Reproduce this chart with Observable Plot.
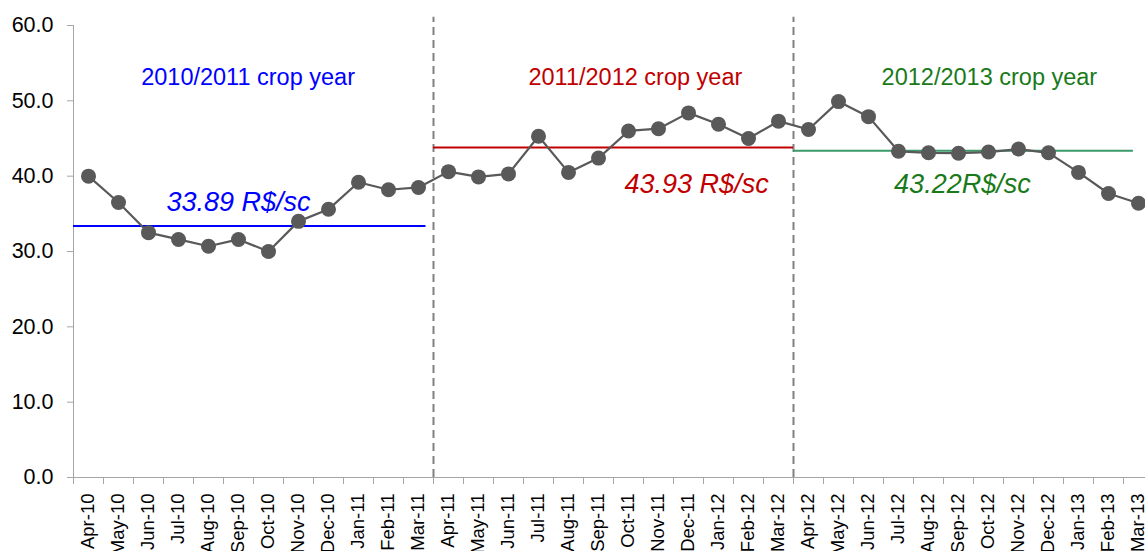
<!DOCTYPE html>
<html>
<head>
<meta charset="utf-8">
<script src="https://cdn.jsdelivr.net/npm/d3@7"></script>
<script src="https://cdn.jsdelivr.net/npm/@observablehq/plot@0.6"></script>
<style>
  html, body { margin: 0; padding: 0; background: #fff; overflow: hidden; }
  #chart { width: 1145px; height: 551px; overflow: hidden; }
  #chart svg { max-width: none !important; }
</style>
</head>
<body>
<div id="chart"></div>
<script>
const months = ["Apr-10","May-10","Jun-10","Jul-10","Aug-10","Sep-10","Oct-10","Nov-10","Dec-10","Jan-11","Feb-11","Mar-11",
  "Apr-11","May-11","Jun-11","Jul-11","Aug-11","Sep-11","Oct-11","Nov-11","Dec-11","Jan-12","Feb-12","Mar-12",
  "Apr-12","May-12","Jun-12","Jul-12","Aug-12","Sep-12","Oct-12","Nov-12","Dec-12","Jan-13","Feb-13","Mar-13"];
const prices = [40.0, 36.5, 32.5, 31.6, 30.7, 31.6, 30.0, 34.0, 35.6, 39.2, 38.2, 38.5,
  40.6, 39.9, 40.3, 45.3, 40.5, 42.4, 46.0, 46.3, 48.4, 46.9, 45.0, 47.3,
  46.2, 49.9, 47.9, 43.3, 43.1, 43.05, 43.2, 43.6, 43.1, 40.5, 37.7, 36.4];

const cropYears = ["2010/2011 crop year", "2011/2012 crop year", "2012/2013 crop year"];
const avgLabels = ["33.89 R$/sc", "43.93 R$/sc", "43.22R$/sc"];
const avgValues = [33.4, 43.8, 43.37];
const avgStart = [0, 12, 24];
const avgEnd = [11.75, 24, 35.33];
const yearColors = ["#0000ff", "#c00000", "#3a9a6a"];
const textColors = ["#0000ff", "#c00000", "#1a7a1a"];
const separators = [12, 24];
const yTicks = [0, 10, 20, 30, 40, 50, 60];

// annotation anchor positions (in x index / y value units)
const cropLabelX = [5.82, 18.73, 30.53];
const cropLabelY = 53.1;
const avgLabelX = [5.5, 20.77, 29.63];
const avgLabelY = [36.55, 38.97, 38.97];

const series = months.map((m, i) => ({month: m, i: i + 0.5, price: prices[i]}));
const years = cropYears.map((c, k) => ({
  name: c, label: avgLabels[k], avg: avgValues[k], x1: avgStart[k], x2: avgEnd[k],
  color: yearColors[k], tcolor: textColors[k], cx: cropLabelX[k], ax: avgLabelX[k], ay: avgLabelY[k]
}));

const font = "'Liberation Sans', Arial, sans-serif";

const chart = Plot.plot({
  width: 1160,
  height: 551,
  marginTop: 25,
  marginBottom: 74,
  marginLeft: 73,
  marginRight: 7,
  style: {fontFamily: font, background: "#fff", overflow: "visible", maxWidth: "none"},
  x: {type: "linear", domain: [0, 36]},
  y: {domain: [0, 60]},
  marks: [
    // axis lines
    Plot.ruleY([0], {stroke: "#a6a6a6", strokeWidth: 1}),
    Plot.ruleX([0], {y1: 0, y2: 60, stroke: "#a6a6a6", strokeWidth: 1}),
    // y axis
    Plot.axisY({ticks: yTicks, tickFormat: d3.format(".1f"), tickSize: 6, tickPadding: 14,
      fontSize: 21.5, stroke: "#a6a6a6", fill: "#000", label: null}),
    // x axis ticks at boundaries
    Plot.axisX({ticks: d3.range(0, 37), tickFormat: () => "", tickSize: 7, stroke: "#a6a6a6", label: null}),
    // x axis labels at centers
    Plot.axisX({ticks: series.map(d => d.i), tickFormat: d => months[Math.round(d - 0.5)],
      tickSize: 0, tickPadding: 16, tickRotate: -90, fontSize: 18.5, fill: "#000", label: null}),
    // separators
    Plot.ruleX(separators, {y1: 0, y2: 61.1, stroke: "#808080", strokeWidth: 2, strokeDasharray: "8,5"}),
    // average lines
    Plot.ruleY(years, {y: "avg", x1: "x1", x2: "x2", stroke: "color", strokeWidth: 2}),
    // series
    Plot.line(series, {x: "i", y: "price", stroke: "#595959", strokeWidth: 2.2}),
    Plot.dot(series, {x: "i", y: "price", r: 7.5, fill: "#595959", stroke: "none"}),
    // crop year labels
    Plot.text(years, {x: "cx", y: () => cropLabelY, text: "name", fill: "tcolor", fontSize: 23.5,
      textAnchor: "middle", lineAnchor: "middle"}),
    // average labels
    Plot.text(years, {x: "ax", y: "ay", text: "label", fill: "tcolor", fontSize: 27, fontStyle: "italic",
      textAnchor: "middle", lineAnchor: "middle"})
  ]
});
document.getElementById("chart").appendChild(chart);
</script>
</body>
</html>
